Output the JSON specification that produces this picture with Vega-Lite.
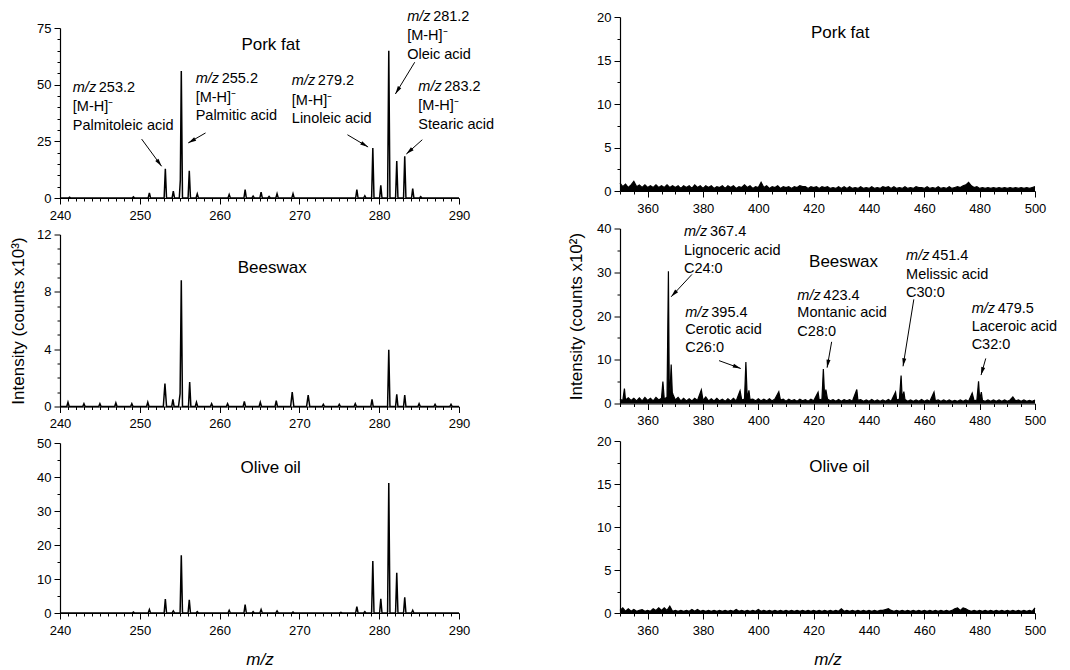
{
"$schema": "https://vega.github.io/schema/vega-lite/v6.json",
"background": "white",
"padding": {"left": 9, "top": 8, "right": 5, "bottom": 0},
"config": {
 "view": {"stroke": null},
 "font": "Liberation Sans",
 "axis": {"grid": false, "domainColor": "#000", "domainWidth": 1.2, "tickColor": "#000", "tickWidth": 1, "labelColor": "#000", "labelFontSize": 13, "labelFont": "Liberation Sans", "titleFont": "Liberation Sans", "titleColor": "#000", "titleFontSize": 17, "titleFontWeight": "normal", "labelFlush": false, "labelOverlap": false},
 "text": {"font": "Liberation Sans", "color": "#000"}
},
"datasets": {
 "sLT": [
  {"mz":240,"i":0},
  {"mz":241.05,"i":0},{"mz":241.2,"i":0.4},{"mz":241.35,"i":0},
  {"mz":249.05,"i":0},{"mz":249.2,"i":0.5},{"mz":249.35,"i":0},
  {"mz":251.05,"i":0},{"mz":251.2,"i":2.2},{"mz":251.35,"i":0},
  {"mz":253.05,"i":0},{"mz":253.2,"i":12.9},{"mz":253.35,"i":0},
  {"mz":254.05,"i":0},{"mz":254.2,"i":3},{"mz":254.35,"i":0},
  {"mz":254.95,"i":0},{"mz":255.08,"i":8},{"mz":255.2,"i":56},{"mz":255.35,"i":0},
  {"mz":256.05,"i":0},{"mz":256.2,"i":12},{"mz":256.35,"i":0},
  {"mz":257.05,"i":0},{"mz":257.2,"i":1.8},{"mz":257.35,"i":0},
  {"mz":261.05,"i":0},{"mz":261.2,"i":1.5},{"mz":261.35,"i":0},
  {"mz":263.05,"i":0},{"mz":263.2,"i":3.7},{"mz":263.35,"i":0},
  {"mz":264.05,"i":0},{"mz":264.2,"i":0.8},{"mz":264.35,"i":0},
  {"mz":265.05,"i":0},{"mz":265.2,"i":2.6},{"mz":265.35,"i":0},
  {"mz":266.05,"i":0},{"mz":266.2,"i":0.7},{"mz":266.35,"i":0},
  {"mz":267.05,"i":0},{"mz":267.2,"i":1.9},{"mz":267.35,"i":0},
  {"mz":269.05,"i":0},{"mz":269.2,"i":1.9},{"mz":269.35,"i":0},
  {"mz":277.05,"i":0},{"mz":277.2,"i":3.7},{"mz":277.35,"i":0},
  {"mz":278.05,"i":0},{"mz":278.2,"i":1},{"mz":278.35,"i":0},
  {"mz":279.05,"i":0},{"mz":279.2,"i":22},{"mz":279.35,"i":0},
  {"mz":280.05,"i":0},{"mz":280.2,"i":5.6},{"mz":280.35,"i":0},
  {"mz":281.05,"i":0},{"mz":281.2,"i":65},{"mz":281.35,"i":0},
  {"mz":282.05,"i":0},{"mz":282.2,"i":16.3},{"mz":282.35,"i":0},
  {"mz":283.05,"i":0},{"mz":283.2,"i":18.4},{"mz":283.35,"i":0},
  {"mz":284.05,"i":0},{"mz":284.2,"i":4.1},{"mz":284.35,"i":0},
  {"mz":285.05,"i":0},{"mz":285.2,"i":0.6},{"mz":285.35,"i":0},
  {"mz":290,"i":0}
 ],
 "sLM": [
  {"mz":240,"i":0},
  {"mz":240.85,"i":0},{"mz":241,"i":0.3},{"mz":241.15,"i":0},
  {"mz":242.85,"i":0},{"mz":243,"i":0.2},{"mz":243.15,"i":0},
  {"mz":244.85,"i":0},{"mz":245,"i":0.2},{"mz":245.15,"i":0},
  {"mz":246.85,"i":0},{"mz":247,"i":0.25},{"mz":247.15,"i":0},
  {"mz":248.85,"i":0},{"mz":249,"i":0.2},{"mz":249.15,"i":0},
  {"mz":250.85,"i":0},{"mz":251,"i":0.3},{"mz":251.15,"i":0},
  {"mz":252.95,"i":0},{"mz":253.15,"i":1.6},{"mz":253.35,"i":0},
  {"mz":254,"i":0},{"mz":254.15,"i":0.5},{"mz":254.3,"i":0},
  {"mz":254.85,"i":0},{"mz":255.05,"i":0.9},{"mz":255.2,"i":8.8},{"mz":255.35,"i":0},
  {"mz":256.1,"i":0},{"mz":256.25,"i":1.7},{"mz":256.4,"i":0},
  {"mz":256.95,"i":0},{"mz":257.1,"i":0.3},{"mz":257.25,"i":0},
  {"mz":258.85,"i":0},{"mz":259,"i":0.2},{"mz":259.15,"i":0},
  {"mz":260.85,"i":0},{"mz":261,"i":0.2},{"mz":261.15,"i":0},
  {"mz":262.95,"i":0},{"mz":263.1,"i":0.35},{"mz":263.25,"i":0},
  {"mz":264.95,"i":0},{"mz":265.1,"i":0.3},{"mz":265.25,"i":0},
  {"mz":266.95,"i":0},{"mz":267.1,"i":0.4},{"mz":267.25,"i":0},
  {"mz":268.9,"i":0},{"mz":269.1,"i":1},{"mz":269.3,"i":0},
  {"mz":270.9,"i":0},{"mz":271.1,"i":0.8},{"mz":271.3,"i":0},
  {"mz":272.85,"i":0},{"mz":273,"i":0.15},{"mz":273.15,"i":0},
  {"mz":274.85,"i":0},{"mz":275,"i":0.15},{"mz":275.15,"i":0},
  {"mz":276.85,"i":0},{"mz":277,"i":0.2},{"mz":277.15,"i":0},
  {"mz":278.95,"i":0},{"mz":279.1,"i":0.5},{"mz":279.25,"i":0},
  {"mz":281.05,"i":0},{"mz":281.2,"i":3.95},{"mz":281.35,"i":0},
  {"mz":282.05,"i":0},{"mz":282.2,"i":0.85},{"mz":282.35,"i":0},
  {"mz":283.05,"i":0},{"mz":283.2,"i":0.8},{"mz":283.35,"i":0},
  {"mz":284.85,"i":0},{"mz":285,"i":0.2},{"mz":285.15,"i":0},
  {"mz":286.85,"i":0},{"mz":287,"i":0.15},{"mz":287.15,"i":0},
  {"mz":288.85,"i":0},{"mz":289,"i":0.15},{"mz":289.15,"i":0},
  {"mz":290,"i":0}
 ],
 "sLB": [
  {"mz":240,"i":0},
  {"mz":249.05,"i":0},{"mz":249.2,"i":0.3},{"mz":249.35,"i":0},
  {"mz":251.05,"i":0},{"mz":251.2,"i":1},{"mz":251.35,"i":0},
  {"mz":253.05,"i":0},{"mz":253.2,"i":4.1},{"mz":253.35,"i":0},
  {"mz":254.05,"i":0},{"mz":254.2,"i":0.6},{"mz":254.35,"i":0},
  {"mz":255.05,"i":0},{"mz":255.2,"i":17},{"mz":255.35,"i":0},
  {"mz":256.05,"i":0},{"mz":256.2,"i":3.9},{"mz":256.35,"i":0},
  {"mz":257.05,"i":0},{"mz":257.2,"i":0.4},{"mz":257.35,"i":0},
  {"mz":261.05,"i":0},{"mz":261.2,"i":0.8},{"mz":261.35,"i":0},
  {"mz":263.05,"i":0},{"mz":263.2,"i":2.5},{"mz":263.35,"i":0},
  {"mz":264.05,"i":0},{"mz":264.2,"i":0.4},{"mz":264.35,"i":0},
  {"mz":265.05,"i":0},{"mz":265.2,"i":1},{"mz":265.35,"i":0},
  {"mz":267.05,"i":0},{"mz":267.2,"i":0.6},{"mz":267.35,"i":0},
  {"mz":269.05,"i":0},{"mz":269.2,"i":0.3},{"mz":269.35,"i":0},
  {"mz":275.05,"i":0},{"mz":275.2,"i":0.2},{"mz":275.35,"i":0},
  {"mz":277.05,"i":0},{"mz":277.2,"i":1.9},{"mz":277.35,"i":0},
  {"mz":278.05,"i":0},{"mz":278.2,"i":0.4},{"mz":278.35,"i":0},
  {"mz":279.05,"i":0},{"mz":279.2,"i":15.3},{"mz":279.35,"i":0},
  {"mz":280.05,"i":0},{"mz":280.2,"i":4.2},{"mz":280.35,"i":0},
  {"mz":281.05,"i":0},{"mz":281.2,"i":38.2},{"mz":281.35,"i":0},
  {"mz":282.05,"i":0},{"mz":282.2,"i":11.8},{"mz":282.35,"i":0},
  {"mz":283.05,"i":0},{"mz":283.2,"i":4.6},{"mz":283.35,"i":0},
  {"mz":284.05,"i":0},{"mz":284.2,"i":0.8},{"mz":284.35,"i":0},
  {"mz":290,"i":0}
 ],
 "sRT": [
  {"mz":350,"i":0.9},{"mz":351,"i":0.5},{"mz":352,"i":0.8},{"mz":353,"i":0.4},{"mz":354,"i":0.7},{"mz":355,"i":1.1},{"mz":356,"i":0.5},{"mz":357,"i":0.7},{"mz":358,"i":0.4},{"mz":359,"i":0.7},
  {"mz":360,"i":0.4},{"mz":361,"i":0.6},{"mz":362,"i":0.4},{"mz":363,"i":0.7},{"mz":364,"i":0.4},{"mz":365,"i":0.6},{"mz":366,"i":0.4},{"mz":367,"i":0.7},{"mz":368,"i":0.4},{"mz":369,"i":0.6},
  {"mz":370,"i":0.4},{"mz":371,"i":0.6},{"mz":372,"i":0.3},{"mz":373,"i":0.6},{"mz":374,"i":0.4},{"mz":375,"i":0.6},{"mz":376,"i":0.3},{"mz":377,"i":0.7},{"mz":378,"i":0.4},{"mz":379,"i":0.6},
  {"mz":380,"i":0.3},{"mz":381,"i":0.6},{"mz":382,"i":0.4},{"mz":383,"i":0.6},{"mz":384,"i":0.3},{"mz":385,"i":0.5},{"mz":386,"i":0.4},{"mz":387,"i":0.6},{"mz":388,"i":0.3},{"mz":389,"i":0.6},
  {"mz":390,"i":0.4},{"mz":391,"i":0.6},{"mz":392,"i":0.3},{"mz":393,"i":0.5},{"mz":394,"i":0.4},{"mz":395,"i":0.7},{"mz":396,"i":0.4},{"mz":397,"i":0.6},{"mz":398,"i":0.3},{"mz":399,"i":0.5},
  {"mz":400,"i":0.4},{"mz":401,"i":1},{"mz":402,"i":0.4},{"mz":403,"i":0.6},{"mz":404,"i":0.3},{"mz":405,"i":0.5},{"mz":406,"i":0.4},{"mz":407,"i":0.6},{"mz":408,"i":0.3},{"mz":409,"i":0.5},
  {"mz":410,"i":0.4},{"mz":411,"i":0.5},{"mz":412,"i":0.3},{"mz":413,"i":0.5},{"mz":414,"i":0.4},{"mz":415,"i":0.6},{"mz":416,"i":0.5},{"mz":417,"i":0.5},{"mz":418,"i":0.3},{"mz":419,"i":0.5},
  {"mz":420,"i":0.4},{"mz":421,"i":0.5},{"mz":422,"i":0.3},{"mz":423,"i":0.5},{"mz":424,"i":0.4},{"mz":425,"i":0.5},{"mz":426,"i":0.3},{"mz":427,"i":0.4},{"mz":428,"i":0.3},{"mz":429,"i":0.5},
  {"mz":430,"i":0.3},{"mz":431,"i":0.5},{"mz":432,"i":0.3},{"mz":433,"i":0.5},{"mz":434,"i":0.3},{"mz":435,"i":0.4},{"mz":436,"i":0.3},{"mz":437,"i":0.5},{"mz":438,"i":0.3},{"mz":439,"i":0.4},
  {"mz":440,"i":0.3},{"mz":441,"i":0.5},{"mz":442,"i":0.3},{"mz":443,"i":0.4},{"mz":444,"i":0.3},{"mz":445,"i":0.5},{"mz":446,"i":0.4},{"mz":447,"i":0.5},{"mz":448,"i":0.3},{"mz":449,"i":0.5},
  {"mz":450,"i":0.3},{"mz":451,"i":0.4},{"mz":452,"i":0.3},{"mz":453,"i":0.5},{"mz":454,"i":0.3},{"mz":455,"i":0.4},{"mz":456,"i":0.3},{"mz":457,"i":0.5},{"mz":458,"i":0.4},{"mz":459,"i":0.4},
  {"mz":460,"i":0.3},{"mz":461,"i":0.5},{"mz":462,"i":0.3},{"mz":463,"i":0.4},{"mz":464,"i":0.3},{"mz":465,"i":0.5},{"mz":466,"i":0.3},{"mz":467,"i":0.4},{"mz":468,"i":0.3},{"mz":469,"i":0.5},
  {"mz":470,"i":0.3},{"mz":471,"i":0.4},{"mz":472,"i":0.5},{"mz":473,"i":0.4},{"mz":474,"i":0.6},{"mz":475,"i":0.7},{"mz":476,"i":1},{"mz":477,"i":0.6},{"mz":478,"i":0.4},{"mz":479,"i":0.5},
  {"mz":480,"i":0.3},{"mz":481,"i":0.4},{"mz":482,"i":0.3},{"mz":483,"i":0.4},{"mz":484,"i":0.3},{"mz":485,"i":0.4},{"mz":486,"i":0.3},{"mz":487,"i":0.4},{"mz":488,"i":0.3},{"mz":489,"i":0.4},
  {"mz":490,"i":0.3},{"mz":491,"i":0.4},{"mz":492,"i":0.3},{"mz":493,"i":0.4},{"mz":494,"i":0.3},{"mz":495,"i":0.4},{"mz":496,"i":0.3},{"mz":497,"i":0.4},{"mz":498,"i":0.3},{"mz":499,"i":0.4},
  {"mz":500,"i":0.5}
 ],
 "sRM": [
  {"mz":350,"i":1},{"mz":351,"i":0.6},{"mz":351.6,"i":3.4},{"mz":352,"i":0.8},{"mz":353,"i":1.3},{"mz":354,"i":0.7},{"mz":355,"i":1.2},{"mz":356,"i":0.6},{"mz":357,"i":1.3},{"mz":358,"i":0.6},{"mz":359,"i":1.4},
  {"mz":360,"i":0.7},{"mz":361,"i":1.2},{"mz":362,"i":0.6},{"mz":363,"i":1.4},{"mz":364,"i":0.8},{"mz":365,"i":1.2},{"mz":365.5,"i":5},{"mz":366,"i":1},{"mz":367,"i":1.5},{"mz":367.5,"i":30.2},{"mz":367.8,"i":4},{"mz":368.1,"i":3},{"mz":368.5,"i":8.9},{"mz":368.9,"i":2.5},{"mz":369.2,"i":2},
  {"mz":370,"i":0.8},{"mz":371,"i":1.4},{"mz":372,"i":0.6},{"mz":373,"i":1.2},{"mz":374,"i":0.6},{"mz":375,"i":1.1},{"mz":376,"i":0.6},{"mz":377,"i":1.2},{"mz":378,"i":0.7},{"mz":379.4,"i":3.1},
  {"mz":380,"i":0.7},{"mz":381,"i":1.5},{"mz":382,"i":0.6},{"mz":383,"i":1.1},{"mz":384,"i":0.6},{"mz":385,"i":1.2},{"mz":386,"i":0.6},{"mz":387,"i":1},{"mz":388,"i":0.5},{"mz":389,"i":1.1},
  {"mz":390,"i":0.6},{"mz":391,"i":1.2},{"mz":392,"i":0.6},{"mz":393.4,"i":2.9},{"mz":394,"i":0.8},{"mz":395,"i":1},{"mz":395.5,"i":9.5},{"mz":396,"i":1},{"mz":396.6,"i":3},{"mz":397,"i":0.9},{"mz":398,"i":1},{"mz":399,"i":0.6},
  {"mz":400,"i":1.1},{"mz":401,"i":0.6},{"mz":402,"i":1},{"mz":403,"i":0.6},{"mz":404,"i":1.1},{"mz":405,"i":0.6},{"mz":406,"i":1},{"mz":407.4,"i":2.7},{"mz":408,"i":0.8},{"mz":409,"i":1},
  {"mz":410,"i":0.5},{"mz":411,"i":1},{"mz":412,"i":0.6},{"mz":413,"i":0.9},{"mz":414,"i":0.5},{"mz":415,"i":1},{"mz":416,"i":0.6},{"mz":417,"i":0.9},{"mz":418,"i":0.5},{"mz":419,"i":1},
  {"mz":420,"i":0.6},{"mz":421.6,"i":2.6},{"mz":422,"i":0.8},{"mz":423,"i":1},{"mz":423.5,"i":7.9},{"mz":424,"i":1},{"mz":424.4,"i":3.2},{"mz":425,"i":1},{"mz":426,"i":0.6},{"mz":427,"i":0.9},{"mz":428,"i":0.5},{"mz":429,"i":0.9},
  {"mz":430,"i":0.5},{"mz":431,"i":0.9},{"mz":432,"i":0.6},{"mz":433,"i":0.9},{"mz":434,"i":0.5},{"mz":435.6,"i":3.2},{"mz":436,"i":0.7},{"mz":437,"i":0.9},{"mz":438,"i":0.5},{"mz":439,"i":0.8},
  {"mz":440,"i":0.5},{"mz":441,"i":0.9},{"mz":442,"i":0.5},{"mz":443,"i":0.8},{"mz":444,"i":0.5},{"mz":445,"i":0.8},{"mz":446,"i":0.5},{"mz":447,"i":0.9},{"mz":448,"i":0.5},{"mz":449.6,"i":2.6},
  {"mz":450,"i":0.8},{"mz":451,"i":1},{"mz":451.6,"i":6.4},{"mz":452,"i":1.2},{"mz":452.6,"i":2.7},{"mz":453,"i":0.9},{"mz":454,"i":0.5},{"mz":455,"i":0.8},{"mz":456,"i":0.5},{"mz":457,"i":0.8},{"mz":458,"i":0.5},{"mz":459,"i":0.9},
  {"mz":460,"i":0.5},{"mz":461,"i":0.8},{"mz":462,"i":0.5},{"mz":463.5,"i":2.6},{"mz":464,"i":0.6},{"mz":465,"i":0.8},{"mz":466,"i":0.5},{"mz":467,"i":0.8},{"mz":468,"i":0.5},{"mz":469,"i":0.8},
  {"mz":470,"i":0.5},{"mz":471,"i":0.7},{"mz":472,"i":0.5},{"mz":473,"i":0.8},{"mz":474,"i":0.5},{"mz":475,"i":0.8},{"mz":476,"i":0.5},{"mz":477.3,"i":2.4},{"mz":478,"i":0.6},{"mz":479,"i":0.8},{"mz":479.6,"i":5.1},
  {"mz":480,"i":0.9},{"mz":480.6,"i":2.6},{"mz":481,"i":0.7},{"mz":482,"i":0.5},{"mz":483,"i":0.8},{"mz":484,"i":0.5},{"mz":485,"i":0.8},{"mz":486,"i":0.5},{"mz":487,"i":0.8},{"mz":488,"i":0.5},{"mz":489,"i":0.8},
  {"mz":490,"i":0.5},{"mz":491,"i":0.8},{"mz":492,"i":1.5},{"mz":493,"i":0.6},{"mz":494,"i":0.8},{"mz":495,"i":0.5},{"mz":496,"i":0.8},{"mz":497,"i":0.5},{"mz":498,"i":0.7},{"mz":499,"i":0.5},
  {"mz":500,"i":0.8}
 ],
 "sRB": [
  {"mz":350,"i":0.3},{"mz":351,"i":0.6},{"mz":352,"i":0.2},{"mz":353,"i":0.5},{"mz":354,"i":0.2},{"mz":355,"i":0.4},{"mz":356,"i":0.2},{"mz":357,"i":0.3},{"mz":358,"i":0.4},{"mz":359,"i":0.2},
  {"mz":360,"i":0.3},{"mz":361,"i":0.2},{"mz":362,"i":0.5},{"mz":363,"i":0.3},{"mz":364,"i":0.6},{"mz":365,"i":0.3},{"mz":366,"i":0.6},{"mz":367,"i":0.3},{"mz":368,"i":0.8},{"mz":369,"i":0.2},
  {"mz":370,"i":0.3},{"mz":371,"i":0.2},{"mz":372,"i":0.3},{"mz":373,"i":0.2},{"mz":374,"i":0.3},{"mz":375,"i":0.2},{"mz":376,"i":0.4},{"mz":377,"i":0.2},{"mz":378,"i":0.4},{"mz":379,"i":0.2},
  {"mz":380,"i":0.3},{"mz":381,"i":0.2},{"mz":382,"i":0.3},{"mz":383,"i":0.2},{"mz":384,"i":0.3},{"mz":385,"i":0.2},{"mz":386,"i":0.3},{"mz":387,"i":0.2},{"mz":388,"i":0.3},{"mz":389,"i":0.2},
  {"mz":390,"i":0.3},{"mz":391,"i":0.2},{"mz":392,"i":0.4},{"mz":393,"i":0.2},{"mz":394,"i":0.3},{"mz":395,"i":0.2},{"mz":396,"i":0.3},{"mz":397,"i":0.2},{"mz":398,"i":0.3},{"mz":399,"i":0.2},
  {"mz":400,"i":0.4},{"mz":401,"i":0.2},{"mz":402,"i":0.3},{"mz":403,"i":0.2},{"mz":404,"i":0.3},{"mz":405,"i":0.2},{"mz":406,"i":0.3},{"mz":407,"i":0.2},{"mz":408,"i":0.3},{"mz":409,"i":0.2},
  {"mz":410,"i":0.3},{"mz":411,"i":0.2},{"mz":412,"i":0.3},{"mz":413,"i":0.2},{"mz":414,"i":0.3},{"mz":415,"i":0.2},{"mz":416,"i":0.3},{"mz":417,"i":0.2},{"mz":418,"i":0.3},{"mz":419,"i":0.2},
  {"mz":420,"i":0.3},{"mz":421,"i":0.2},{"mz":422,"i":0.3},{"mz":423,"i":0.2},{"mz":424,"i":0.3},{"mz":425,"i":0.2},{"mz":426,"i":0.3},{"mz":427,"i":0.2},{"mz":428,"i":0.3},{"mz":429,"i":0.2},
  {"mz":430,"i":0.5},{"mz":431,"i":0.2},{"mz":432,"i":0.3},{"mz":433,"i":0.2},{"mz":434,"i":0.3},{"mz":435,"i":0.2},{"mz":436,"i":0.3},{"mz":437,"i":0.2},{"mz":438,"i":0.3},{"mz":439,"i":0.2},
  {"mz":440,"i":0.3},{"mz":441,"i":0.2},{"mz":442,"i":0.3},{"mz":443,"i":0.2},{"mz":444,"i":0.3},{"mz":445,"i":0.3},{"mz":446,"i":0.4},{"mz":447,"i":0.5},{"mz":448,"i":0.3},{"mz":449,"i":0.2},
  {"mz":450,"i":0.3},{"mz":451,"i":0.2},{"mz":452,"i":0.3},{"mz":453,"i":0.2},{"mz":454,"i":0.3},{"mz":455,"i":0.2},{"mz":456,"i":0.3},{"mz":457,"i":0.2},{"mz":458,"i":0.3},{"mz":459,"i":0.2},
  {"mz":460,"i":0.3},{"mz":461,"i":0.2},{"mz":462,"i":0.3},{"mz":463,"i":0.2},{"mz":464,"i":0.3},{"mz":465,"i":0.2},{"mz":466,"i":0.3},{"mz":467,"i":0.2},{"mz":468,"i":0.3},{"mz":469,"i":0.2},
  {"mz":470,"i":0.3},{"mz":471,"i":0.5},{"mz":472,"i":0.6},{"mz":473,"i":0.3},{"mz":474,"i":0.6},{"mz":475,"i":0.5},{"mz":476,"i":0.3},{"mz":477,"i":0.2},{"mz":478,"i":0.3},{"mz":479,"i":0.2},
  {"mz":480,"i":0.3},{"mz":481,"i":0.2},{"mz":482,"i":0.3},{"mz":483,"i":0.2},{"mz":484,"i":0.3},{"mz":485,"i":0.2},{"mz":486,"i":0.3},{"mz":487,"i":0.2},{"mz":488,"i":0.3},{"mz":489,"i":0.2},
  {"mz":490,"i":0.3},{"mz":491,"i":0.2},{"mz":492,"i":0.3},{"mz":493,"i":0.2},{"mz":494,"i":0.3},{"mz":495,"i":0.2},{"mz":496,"i":0.3},{"mz":497,"i":0.2},{"mz":498,"i":0.3},{"mz":499,"i":0.2},
  {"mz":500,"i":0.6}
 ],
 "ttl": [
  {"p":"LT","mz":266.4,"i":67.6,"t":"Pork fat"},
  {"p":"LM","mz":266.6,"i":9.67,"t":"Beeswax"},
  {"p":"LB","mz":266.4,"i":42.6,"t":"Olive oil"},
  {"p":"RT","mz":429.6,"i":18.2,"t":"Pork fat"},
  {"p":"RM","mz":430.8,"i":32.4,"t":"Beeswax"},
  {"p":"RB","mz":429.3,"i":17,"t":"Olive oil"}
 ],
 "mzl": [
  {"p":"LT","mz":241.6,"i":48.5,"n":"253.2"},
  {"p":"LT","mz":257.0,"i":52.5,"n":"255.2"},
  {"p":"LT","mz":269.05,"i":51.5,"n":"279.2"},
  {"p":"LT","mz":283.5,"i":79.9,"n":"281.2"},
  {"p":"LT","mz":284.9,"i":49,"n":"283.2"},
  {"p":"RM","mz":373.1,"i":39.1,"n":"367.4"},
  {"p":"RM","mz":373.6,"i":20.8,"n":"395.4"},
  {"p":"RM","mz":414.1,"i":24.6,"n":"423.4"},
  {"p":"RM","mz":453.4,"i":33.7,"n":"451.4"},
  {"p":"RM","mz":477.1,"i":21.5,"n":"479.5"}
 ],
 "txt": [
  {"p":"LT","mz":241.6,"i":40.1,"t":"[M-H]\u207b"},
  {"p":"LT","mz":241.6,"i":31.9,"t":"Palmitoleic acid"},
  {"p":"LT","mz":257.0,"i":44.1,"t":"[M-H]\u207b"},
  {"p":"LT","mz":257.0,"i":36,"t":"Palmitic acid"},
  {"p":"LT","mz":269.05,"i":42.6,"t":"[M-H]\u207b"},
  {"p":"LT","mz":269.05,"i":34.9,"t":"Linoleic acid"},
  {"p":"LT","mz":283.5,"i":71.3,"t":"[M-H]\u207b"},
  {"p":"LT","mz":283.5,"i":63.2,"t":"Oleic acid"},
  {"p":"LT","mz":284.9,"i":40.4,"t":"[M-H]\u207b"},
  {"p":"LT","mz":284.9,"i":32.4,"t":"Stearic acid"},
  {"p":"RM","mz":373.1,"i":34.9,"t":"Lignoceric acid"},
  {"p":"RM","mz":373.1,"i":30.7,"t":"C24:0"},
  {"p":"RM","mz":373.6,"i":16.7,"t":"Cerotic acid"},
  {"p":"RM","mz":373.6,"i":12.6,"t":"C26:0"},
  {"p":"RM","mz":414.1,"i":20.8,"t":"Montanic acid"},
  {"p":"RM","mz":414.1,"i":16.3,"t":"C28:0"},
  {"p":"RM","mz":453.4,"i":29.3,"t":"Melissic acid"},
  {"p":"RM","mz":453.4,"i":25.2,"t":"C30:0"},
  {"p":"RM","mz":477.1,"i":17.6,"t":"Laceroic acid"},
  {"p":"RM","mz":477.1,"i":13.4,"t":"C32:0"}
 ],
 "arr": [
  {"p":"LT","mz":252.73,"i":14.0,"mz2":250.23,"i2":26.0,"a":143.8},
  {"p":"LT","mz":256.07,"i":24.3,"mz2":258.24,"i2":28.7,"a":240},
  {"p":"LT","mz":278.61,"i":22.5,"mz2":276.02,"i2":27.9,"a":120.8},
  {"p":"LT","mz":282.03,"i":45.9,"mz2":284.45,"i2":59.9,"a":211.4},
  {"p":"LT","mz":283.4,"i":19.4,"mz2":285.4,"i2":25.7,"a":228.1},
  {"p":"RM","mz":368.5,"i":24.4,"mz2":376.0,"i2":29.5,"a":222.8},
  {"p":"RM","mz":393.65,"i":8.0,"mz2":385.8,"i2":9.8,"a":110.3},
  {"p":"RM","mz":424.85,"i":8.2,"mz2":426.5,"i2":14.1,"a":190.2},
  {"p":"RM","mz":452.3,"i":8.5,"mz2":456.2,"i2":23.8,"a":189.1},
  {"p":"RM","mz":480.5,"i":6.5,"mz2":482.2,"i2":10.3,"a":195.6}
 ]
},
"spacing": 72,
"hconcat": [
 {"bounds": "flush", "spacing": 36.5, "vconcat": [
  {"width": 399, "height": 181,
   "encoding": {
    "x": {"field":"mz","type":"quantitative","scale":{"domain":[240,290],"nice":false,"zero":false},
      "axis":{"title":null,"labelPadding":5,"values":[240,241,242,243,244,245,246,247,248,249,250,251,252,253,254,255,256,257,258,259,260,261,262,263,264,265,266,267,268,269,270,271,272,273,274,275,276,277,278,279,280,281,282,283,284,285,286,287,288,289,290],
      "labelExpr":"datum.value % 10 === 0 ? datum.label : ''","tickSize":{"condition":{"test":"datum.value % 10 === 0","value":6},"value":3}}},
    "y": {"field":"i","type":"quantitative","scale":{"domain":[0,75],"range":[181,11],"nice":false,"zero":false},
      "axis":{"title":null,"labelPadding":3,"values":[0,5,10,15,20,25,30,35,40,45,50,55,60,65,70,75],
      "labelExpr":"datum.value % 25 === 0 ? datum.label : ''","tickSize":{"condition":{"test":"datum.value % 25 === 0","value":6},"value":3}}}
   },
   "layer": [
    {"data":{"name":"sLT"},"mark":{"type":"line","color":"black","strokeWidth":1.5},"encoding":{}},
    {"data":{"name":"ttl"},"transform":[{"filter":"datum.p === 'LT'"}],"mark":{"type":"text","fontSize":17,"align":"center","baseline":"middle","color":"black"},"encoding":{"text":{"field":"t"}}},
    {"data":{"name":"mzl"},"transform":[{"filter":"datum.p === 'LT'"}],"mark":{"type":"text","text":"m/z","fontStyle":"italic","fontSize":14.5,"align":"left","baseline":"middle","color":"black"},"encoding":{}},
    {"data":{"name":"mzl"},"transform":[{"filter":"datum.p === 'LT'"}],"mark":{"type":"text","dx":26,"fontSize":14.5,"align":"left","baseline":"middle","color":"black"},"encoding":{"text":{"field":"n"}}},
    {"data":{"name":"txt"},"transform":[{"filter":"datum.p === 'LT'"}],"mark":{"type":"text","fontSize":14.5,"align":"left","baseline":"middle","color":"black"},"encoding":{"text":{"field":"t"}}},
    {"data":{"name":"arr"},"transform":[{"filter":"datum.p === 'LT'"}],"mark":{"type":"rule","color":"black","strokeWidth":1},"encoding":{"x2":{"field":"mz2"},"y2":{"field":"i2"}}},
    {"data":{"name":"arr"},"transform":[{"filter":"datum.p === 'LT'"}],"mark":{"type":"point","shape":"M0,0L0.5,2L-0.5,2Z","filled":true,"size":64,"color":"black","opacity":1},"encoding":{"angle":{"field":"a","type":"quantitative","scale":null}}}
   ]},
  {"width": 399, "height": 172,
   "encoding": {
    "x": {"field":"mz","type":"quantitative","scale":{"domain":[240,290],"nice":false,"zero":false},
      "axis":{"title":null,"labelPadding":5,"values":[240,241,242,243,244,245,246,247,248,249,250,251,252,253,254,255,256,257,258,259,260,261,262,263,264,265,266,267,268,269,270,271,272,273,274,275,276,277,278,279,280,281,282,283,284,285,286,287,288,289,290],
      "labelExpr":"datum.value % 10 === 0 ? datum.label : ''","tickSize":{"condition":{"test":"datum.value % 10 === 0","value":6},"value":3}}},
    "y": {"field":"i","type":"quantitative","scale":{"domain":[0,12],"nice":false,"zero":false},
      "axis":{"title":"Intensity (counts x10\u00b3)","titlePadding":9,"labelPadding":3,"values":[0,1,2,3,4,5,6,7,8,9,10,11,12],
      "labelExpr":"datum.value % 4 === 0 ? datum.label : ''","tickSize":{"condition":{"test":"datum.value % 4 === 0","value":6},"value":3}}}
   },
   "layer": [
    {"data":{"name":"sLM"},"mark":{"type":"line","color":"black","strokeWidth":1.5},"encoding":{}},
    {"data":{"name":"ttl"},"transform":[{"filter":"datum.p === 'LM'"}],"mark":{"type":"text","fontSize":17,"align":"center","baseline":"middle","color":"black"},"encoding":{"text":{"field":"t"}}}
   ]},
  {"width": 399, "height": 170,
   "encoding": {
    "x": {"field":"mz","type":"quantitative","scale":{"domain":[240,290],"nice":false,"zero":false},
      "axis":{"title":"m/z","titleFontStyle":"italic","titlePadding":14,"labelPadding":5,"values":[240,241,242,243,244,245,246,247,248,249,250,251,252,253,254,255,256,257,258,259,260,261,262,263,264,265,266,267,268,269,270,271,272,273,274,275,276,277,278,279,280,281,282,283,284,285,286,287,288,289,290],
      "labelExpr":"datum.value % 10 === 0 ? datum.label : ''","tickSize":{"condition":{"test":"datum.value % 10 === 0","value":6},"value":3}}},
    "y": {"field":"i","type":"quantitative","scale":{"domain":[0,50],"nice":false,"zero":false},
      "axis":{"title":null,"labelPadding":3,"values":[0,5,10,15,20,25,30,35,40,45,50],
      "labelExpr":"datum.value % 10 === 0 ? datum.label : ''","tickSize":{"condition":{"test":"datum.value % 10 === 0","value":6},"value":3}}}
   },
   "layer": [
    {"data":{"name":"sLB"},"mark":{"type":"line","color":"black","strokeWidth":1.5},"encoding":{}},
    {"data":{"name":"ttl"},"transform":[{"filter":"datum.p === 'LB'"}],"mark":{"type":"text","fontSize":17,"align":"center","baseline":"middle","color":"black"},"encoding":{"text":{"field":"t"}}}
   ]}
 ]},
 {"bounds": "flush", "spacing": 37.5, "vconcat": [
  {"width": 415, "height": 174,
   "encoding": {
    "x": {"field":"mz","type":"quantitative","scale":{"domain":[350,500],"nice":false,"zero":false},
      "axis":{"title":null,"labelPadding":5,"values":[350,355,360,365,370,375,380,385,390,395,400,405,410,415,420,425,430,435,440,445,450,455,460,465,470,475,480,485,490,495,500],
      "labelExpr":"datum.value % 20 === 0 ? datum.label : ''","tickSize":{"condition":{"test":"datum.value % 20 === 0","value":6},"value":3}}},
    "y": {"field":"i","type":"quantitative","scale":{"domain":[0,20],"nice":false,"zero":false},
      "axis":{"title":null,"labelPadding":3,"values":[0,2.5,5,7.5,10,12.5,15,17.5,20],
      "labelExpr":"datum.value % 5 === 0 ? datum.label : ''","tickSize":{"condition":{"test":"datum.value % 5 === 0","value":6},"value":3}}}
   },
   "layer": [
    {"data":{"name":"sRT"},"mark":{"type":"area","color":"black","opacity":1},"encoding":{}},
    {"data":{"name":"sRT"},"mark":{"type":"line","color":"black","strokeWidth":1.2},"encoding":{}},
    {"data":{"name":"ttl"},"transform":[{"filter":"datum.p === 'RT'"}],"mark":{"type":"text","fontSize":17,"align":"center","baseline":"middle","color":"black"},"encoding":{"text":{"field":"t"}}}
   ]},
  {"width": 415, "height": 175,
   "encoding": {
    "x": {"field":"mz","type":"quantitative","scale":{"domain":[350,500],"nice":false,"zero":false},
      "axis":{"title":null,"labelPadding":5,"values":[350,355,360,365,370,375,380,385,390,395,400,405,410,415,420,425,430,435,440,445,450,455,460,465,470,475,480,485,490,495,500],
      "labelExpr":"datum.value % 20 === 0 ? datum.label : ''","tickSize":{"condition":{"test":"datum.value % 20 === 0","value":6},"value":3}}},
    "y": {"field":"i","type":"quantitative","scale":{"domain":[0,40],"nice":false,"zero":false},
      "axis":{"title":"Intensity (counts x10\u00b2)","titlePadding":11,"labelPadding":3,"values":[0,5,10,15,20,25,30,35,40],
      "labelExpr":"datum.value % 10 === 0 ? datum.label : ''","tickSize":{"condition":{"test":"datum.value % 10 === 0","value":6},"value":3}}}
   },
   "layer": [
    {"data":{"name":"sRM"},"mark":{"type":"area","color":"black","opacity":1},"encoding":{}},
    {"data":{"name":"sRM"},"mark":{"type":"line","color":"black","strokeWidth":1.2},"encoding":{}},
    {"data":{"name":"ttl"},"transform":[{"filter":"datum.p === 'RM'"}],"mark":{"type":"text","fontSize":17,"align":"center","baseline":"middle","color":"black"},"encoding":{"text":{"field":"t"}}},
    {"data":{"name":"mzl"},"transform":[{"filter":"datum.p === 'RM'"}],"mark":{"type":"text","text":"m/z","fontStyle":"italic","fontSize":14.5,"align":"left","baseline":"middle","color":"black"},"encoding":{}},
    {"data":{"name":"mzl"},"transform":[{"filter":"datum.p === 'RM'"}],"mark":{"type":"text","dx":26,"fontSize":14.5,"align":"left","baseline":"middle","color":"black"},"encoding":{"text":{"field":"n"}}},
    {"data":{"name":"txt"},"transform":[{"filter":"datum.p === 'RM'"}],"mark":{"type":"text","fontSize":14.5,"align":"left","baseline":"middle","color":"black"},"encoding":{"text":{"field":"t"}}},
    {"data":{"name":"arr"},"transform":[{"filter":"datum.p === 'RM'"}],"mark":{"type":"rule","color":"black","strokeWidth":1},"encoding":{"x2":{"field":"mz2"},"y2":{"field":"i2"}}},
    {"data":{"name":"arr"},"transform":[{"filter":"datum.p === 'RM'"}],"mark":{"type":"point","shape":"M0,0L0.5,2L-0.5,2Z","filled":true,"size":64,"color":"black","opacity":1},"encoding":{"angle":{"field":"a","type":"quantitative","scale":null}}}
   ]},
  {"width": 415, "height": 172,
   "encoding": {
    "x": {"field":"mz","type":"quantitative","scale":{"domain":[350,500],"nice":false,"zero":false},
      "axis":{"title":"m/z","titleFontStyle":"italic","titlePadding":14,"labelPadding":5,"values":[350,355,360,365,370,375,380,385,390,395,400,405,410,415,420,425,430,435,440,445,450,455,460,465,470,475,480,485,490,495,500],
      "labelExpr":"datum.value % 20 === 0 ? datum.label : ''","tickSize":{"condition":{"test":"datum.value % 20 === 0","value":6},"value":3}}},
    "y": {"field":"i","type":"quantitative","scale":{"domain":[0,20],"nice":false,"zero":false},
      "axis":{"title":null,"labelPadding":3,"values":[0,2.5,5,7.5,10,12.5,15,17.5,20],
      "labelExpr":"datum.value % 5 === 0 ? datum.label : ''","tickSize":{"condition":{"test":"datum.value % 5 === 0","value":6},"value":3}}}
   },
   "layer": [
    {"data":{"name":"sRB"},"mark":{"type":"area","color":"black","opacity":1},"encoding":{}},
    {"data":{"name":"sRB"},"mark":{"type":"line","color":"black","strokeWidth":1.2},"encoding":{}},
    {"data":{"name":"ttl"},"transform":[{"filter":"datum.p === 'RB'"}],"mark":{"type":"text","fontSize":17,"align":"center","baseline":"middle","color":"black"},"encoding":{"text":{"field":"t"}}}
   ]}
 ]}
]
}
